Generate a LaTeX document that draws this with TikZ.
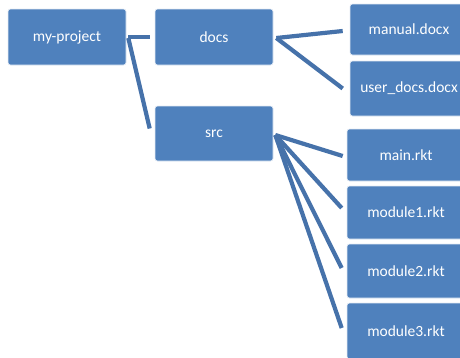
\documentclass[tikz,border=0pt]{standalone}
\usepackage{fontspec}
\setmainfont{Carlito}
\usetikzlibrary{calc}
\definecolor{boxblue}{HTML}{4F81BD}
\definecolor{linkblue}{HTML}{4672AA}
\begin{document}
\begin{tikzpicture}[x=1pt,y=-1pt,
  box/.style={rectangle, rounded corners=2.5pt, fill=boxblue, draw=white!85!boxblue,
    line width=0.6pt, text=white, font=\fontsize{15.5}{18}\selectfont,
    minimum width=118pt, inner sep=0pt},
  link/.style={draw=linkblue, line width=4.2pt}]
\useasboundingbox (0,0) rectangle (460,357);
\clip (0,0) rectangle (460,357);
% tree nodes
\node[box, minimum height=56pt] (root) at (67,37) {my-project};
\node[box, minimum height=56pt] (docs) at (214,37) {docs};
\node[box, minimum height=55pt] (src) at (214,133.5) {src};
\node[box, minimum height=51pt] (manual) at (409,29.5) {manual.docx};
\node[box, minimum height=55pt] (userdocs) at (409,88.5) {user\_docs.docx};
\node[box, minimum height=52pt] (main) at (406,155) {main.rkt};
\node[box, minimum height=53pt] (mod1) at (406,212.5) {module1.rkt};
\node[box, minimum height=54pt] (mod2) at (406,271) {module2.rkt};
\node[box, minimum height=56pt] (mod3) at (406,331) {module3.rkt};
% connectors
\draw[link] ($(root.east)+(2,0)$) -- ($(docs.west)+(-5,0)$);
\draw[link] ($(root.east)+(2,1)$) -- ($(src.west)+(-5,-5)$);
\draw[link] ($(docs.east)+(3,1)$) -- ($(manual.west)+(-7,1.5)$);
\draw[link] ($(docs.east)+(3,1)$) -- ($(userdocs.west)+(-7,0)$);
\draw[link] ($(src.east)+(2,1.5)$) -- ($(main.west)+(-4,1)$);
\draw[link] ($(src.east)+(2,1.5)$) -- ($(mod1.west)+(-5,-4.5)$);
\draw[link] ($(src.east)+(2,1.5)$) -- ($(mod2.west)+(-5,-3)$);
\draw[link] ($(src.east)+(2,1.5)$) -- ($(mod3.west)+(-5,-3)$);
\end{tikzpicture}
\end{document}
